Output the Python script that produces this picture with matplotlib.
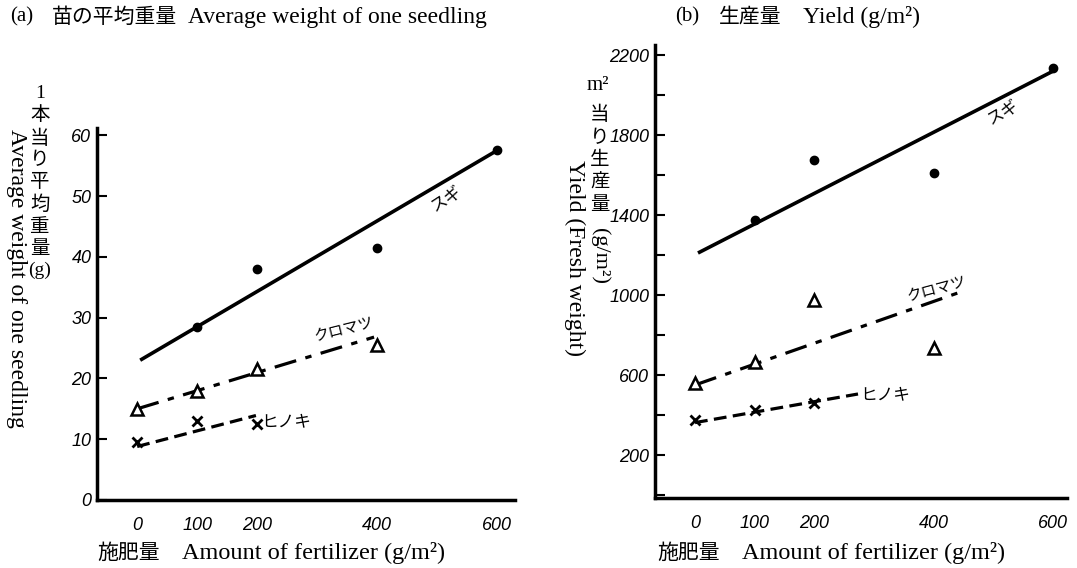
import matplotlib.pyplot as plt
import numpy as np

# fertilizer amounts (g/m2)
fert = [0, 100, 200, 400, 600]

# (a) average weight of one seedling (g)
sugi_w_x = [100, 200, 400, 600]
sugi_w = [28.5, 38.0, 41.5, 57.5]
kuro_w_x = [0, 100, 200, 400]
kuro_w = [15.0, 18.0, 21.5, 25.5]
hino_w_x = [0, 100, 200]
hino_w = [9.5, 13.0, 12.5]
# fitted lines (start, end)
sugi_w_fit_x, sugi_w_fit = [5, 600], [23.0, 57.5]
kuro_w_fit_x, kuro_w_fit = [0, 395], [15.0, 26.8]
hino_w_fit_x, hino_w_fit = [0, 198], [8.8, 13.9]

# (b) yield (g/m2, fresh weight)
sugi_y_x = [100, 200, 400, 600]
sugi_y = [1375, 1675, 1610, 2135]
kuro_y_x = [0, 100, 200, 400]
kuro_y = [560, 665, 975, 735]
hino_y_x = [0, 100, 200]
hino_y = [375, 425, 460]
sugi_y_fit_x, sugi_y_fit = [5, 600], [1210, 2120]
kuro_y_fit_x, kuro_y_fit = [0, 440], [550, 1010]
hino_y_fit_x, hino_y_fit = [0, 273], [362, 505]

W, H = 1077, 568
SERIF = ['Liberation Serif', 'Noto Sans CJK JP']
JP = ['Noto Sans CJK JP']
TICKF = ['Liberation Sans', 'DejaVu Sans']


def px(x, y):
    return x / W, 1 - y / H


def style_axes(ax, ylim, xlim, yticks, ylabels, yminor):
    ax.set_xlim(*xlim)
    ax.set_ylim(*ylim)
    for s in ['top', 'right']:
        ax.spines[s].set_visible(False)
    for s in ['left', 'bottom']:
        ax.spines[s].set_linewidth(2.5)
    ax.set_yticks(yticks)
    ax.set_yticklabels(ylabels)
    ax.set_yticks(yminor, minor=True)
    ax.set_xticks(fert)
    ax.set_xticklabels([str(v) for v in fert])
    ax.set_xticks([400, 600], minor=True)
    ax.tick_params(axis='y', which='both', direction='in', length=7, width=1.5, pad=4)
    ax.tick_params(axis='x', which='major', length=0, pad=12)
    ax.tick_params(axis='x', which='minor', direction='in', length=7, width=1.5)
    for lab in ax.get_xticklabels() + ax.get_yticklabels():
        lab.set_family(TICKF)
        lab.set_style('italic')
        lab.set_fontsize(13)


def draw(ax, data):
    (sx, sy, sfx, sfy, kx, ky, kfx, kfy, hx, hy, hfx, hfy) = data
    ax.plot(sfx, sfy, color='black', lw=2.6, ls='-', solid_capstyle='butt')
    ax.plot(sx, sy, 'o', color='black', ms=6)
    ax.plot(kfx, kfy, color='black', lw=2.3, ls=(0, (7, 3, 2, 3)))
    ax.plot(kx, ky, '^', mfc='white', mec='black', mew=1.8, ms=8)
    ax.plot(hfx, hfy, color='black', lw=2.3, ls=(0, (4, 2)))
    ax.plot(hx, hy, 'x', color='black', mew=2, ms=7)


fig = plt.figure(figsize=(W / 100, H / 100), dpi=100)

ax1 = fig.add_axes([97 / W, 68 / H, (515 - 97) / W, (500 - 128) / H])
draw(ax1, (sugi_w_x, sugi_w, sugi_w_fit_x, sugi_w_fit,
           kuro_w_x, kuro_w, kuro_w_fit_x, kuro_w_fit,
           hino_w_x, hino_w, hino_w_fit_x, hino_w_fit))
style_axes(ax1, (0, 61.2), (-67, 630), np.arange(0, 61, 10),
           [str(v) for v in range(0, 61, 10)], [])
ax1.text(515, 49.5, 'スギ', rotation=33, family=JP, fontsize=12,
         ha='center', va='center')
ax1.text(345, 28.0, 'クロマツ', rotation=14, family=JP, fontsize=11,
         ha='center', va='center')
ax1.text(248, 12.8, 'ヒノキ', family=JP, fontsize=12,
         ha='center', va='center')

ax2 = fig.add_axes([655 / W, 70 / H, (1067 - 655) / W, (498 - 45) / H])
draw(ax2, (sugi_y_x, sugi_y, sugi_y_fit_x, sugi_y_fit,
           kuro_y_x, kuro_y, kuro_y_fit_x, kuro_y_fit,
           hino_y_x, hino_y, hino_y_fit_x, hino_y_fit))
style_axes(ax2, (-15, 2250), (-67, 623), np.arange(200, 2201, 400),
           [str(v) for v in range(200, 2201, 400)], np.arange(0, 2201, 200))
ax2.text(516, 1910, 'スギ', rotation=30, family=JP, fontsize=12,
         ha='center', va='center')
ax2.text(405, 1030, 'クロマツ', rotation=15, family=JP, fontsize=11,
         ha='center', va='center')
ax2.text(318, 500, 'ヒノキ', family=JP, fontsize=12,
         ha='center', va='center')

# titles
fig.text(*px(10, 17), '(a)', family=SERIF, fontsize=15, va='center')
fig.text(*px(52, 17), '苗の平均重量', family=JP, fontsize=15, va='center')
fig.text(*px(188, 17), 'Average weight of one seedling', family=SERIF,
         fontsize=17, va='center')
fig.text(*px(675, 17), '(b)', family=SERIF, fontsize=15, va='center')
fig.text(*px(719, 17), '生産量', family=JP, fontsize=15, va='center')
fig.text(*px(803, 17), 'Yield (g/m²)', family=SERIF, fontsize=17, va='center')

# x labels
for x0 in (97, 657):
    fig.text(*px(x0, 553), '施肥量', family=JP, fontsize=15, va='center')
    fig.text(*px(x0 + 85, 553), 'Amount of fertilizer (g/m²)', family=SERIF,
             fontsize=17.5, va='center')

# y labels (a)
fig.text(*px(16, 278), 'Average weight of one seedling', family=SERIF, fontsize=17,
         rotation=-90, ha='center', va='center')
fig.text(*px(40, 182), '1\n本\n当\nり\n平\n均\n重\n量\n(g)', family=SERIF,
         fontsize=14, ha='center', va='center', linespacing=1.35)

# y labels (b)
fig.text(*px(598, 86), 'm²', family=SERIF, fontsize=15, ha='center', va='center')
fig.text(*px(600, 160), '当\nり\n生\n産\n量', family=SERIF, fontsize=14,
         ha='center', va='center', linespacing=1.4)
fig.text(*px(600, 256), '(g/m²)', family=SERIF, fontsize=16, rotation=-90,
         ha='center', va='center')
fig.text(*px(575, 258), 'Yield (Fresh weight)', family=SERIF, fontsize=17,
         rotation=-90, ha='center', va='center')

fig.savefig('out.png', dpi=100)
